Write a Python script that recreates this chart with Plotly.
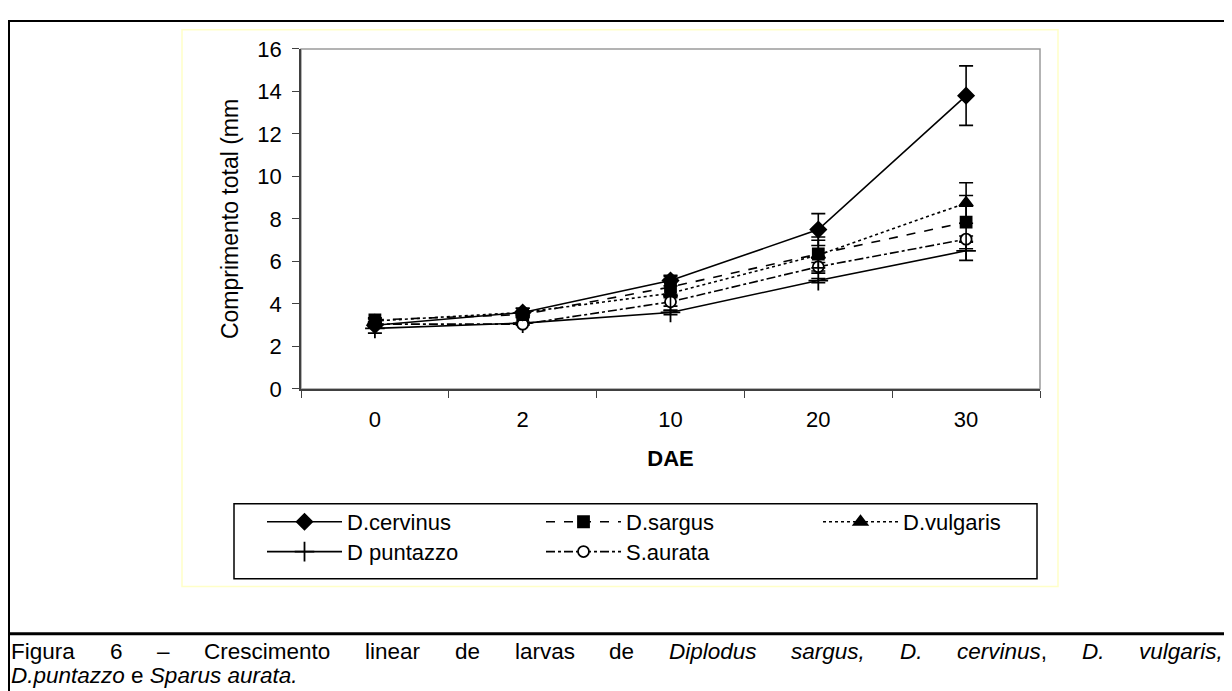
import plotly.graph_objects as go

# ---------------- data ----------------
DAE = ["0", "2", "10", "20", "30"]
y_ticks = [0, 2, 4, 6, 8, 10, 12, 14, 16]

cervinus = [3.0, 3.6, 5.1, 7.5, 13.8]
cervinus_err = [0.1, 0.2, 0.25, 0.75, 1.4]
sargus = [3.25, 3.5, 4.8, 6.35, 7.85]
sargus_err = [0.1, 0.15, 0.35, 0.65, 1.25]
vulgaris = [3.2, 3.6, 4.5, 6.3, 8.75]
vulgaris_err = [0.1, 0.2, 0.8, 0.85, 0.95]
puntazzo = [2.85, 3.1, 3.6, 5.1, 6.5]
puntazzo_err = [0.22, 0.05, 0.1, 0.1, 0.45]
aurata = [3.05, 3.05, 4.1, 5.75, 7.05]
aurata_err = [0.1, 0.05, 0.2, 0.2, 0.15]

names = ["D.cervinus", "D.sargus", "D.vulgaris", "D puntazzo", "S.aurata"]

OFF = 8  # default page (body) margin of the html page
W, H = 1232 - OFF, 691 - OFF


def px(x):
    return (x - OFF) / W


def py(y):
    return 1 - (y - OFF) / H


X0, X1, Y0, Y1 = 301, 1040, 38, 391

fig = go.Figure()

series = [
    (names[3], puntazzo, puntazzo_err, "solid", "cross-thin-open", 14, "legend4"),
    (names[4], aurata, aurata_err, "dashdot", "circle", 11, "legend5"),
    (names[1], sargus, sargus_err, "dash", "square", 11, "legend2"),
    (names[2], vulgaris, vulgaris_err, "dot", "triangle-up", 12, "legend3"),
    (names[0], cervinus, cervinus_err, "solid", "diamond", 12, "legend"),
]

for name, vals, err, dash, sym, size, leg in series:
    fig.add_trace(go.Scatter(
        x=DAE, y=vals, name=name, mode="lines+markers",
        line=dict(color="black", width=1.6, dash=dash),
        marker=dict(symbol=sym, size=size,
                    color="white" if sym == "circle" else "black",
                    line=dict(color="black", width=1.8)),
        error_y=dict(type="data", array=err, visible=True, color="black",
                     thickness=1.6, width=7),
        legend=leg, showlegend=True,
    ))

axis_font = dict(family="Liberation Sans, Arial, sans-serif", size=22, color="black")
title_font = dict(family="Liberation Sans, Arial, sans-serif", size=23, color="black")
leg_font = dict(family="Liberation Sans, Arial, sans-serif", size=22, color="black")

legend_common = dict(orientation="h", xanchor="left", yanchor="middle",
                     bgcolor="rgba(0,0,0,0)", borderwidth=0, font=leg_font,
                     itemwidth=75, itemclick=False, itemdoubleclick=False)

row1, row2 = 529, 560
fig.update_layout(
    width=W, height=H,
    margin=dict(l=0, r=0, t=0, b=0),
    paper_bgcolor="white", plot_bgcolor="white",
    showlegend=True,
    legend=dict(x=px(262), y=py(row1), **legend_common),
    legend2=dict(x=px(541), y=py(row1), **legend_common),
    legend3=dict(x=px(818), y=py(row1), **legend_common),
    legend4=dict(x=px(262), y=py(row2), **legend_common),
    legend5=dict(x=px(541), y=py(row2), **legend_common),
    xaxis=dict(
        type="category", domain=[px(X0), px(X1)], range=[-0.5, 4.5],
        tickson="boundaries", ticks="outside", ticklen=7, tickwidth=1.3,
        tickcolor="#404040", showline=True, linecolor="#404040", linewidth=1.5,
        showgrid=False, tickfont=axis_font, ticklabelstandoff=10,
        title=dict(text="<b>DAE</b>", font=axis_font, standoff=19),
    ),
    yaxis=dict(
        domain=[py(Y1), py(Y0)], range=[0, 16], tickvals=y_ticks,
        ticks="outside", ticklen=7, tickwidth=1.3, tickcolor="#404040",
        showline=True, linecolor="#404040", linewidth=1.5,
        showgrid=False, zeroline=False, tickfont=axis_font,
        ticklabelstandoff=6,
        title=dict(text="Comprimento total (mm", font=title_font, standoff=12),
    ),
)

shapes = [
    # outer page frame
    dict(type="rect", xref="paper", yref="paper", x0=px(9), x1=px(1250),
         y0=py(710), y1=py(9), line=dict(color="black", width=2)),
    # thick separator above caption
    dict(type="line", xref="paper", yref="paper", x0=px(9), x1=px(1250),
         y0=py(645), y1=py(645), line=dict(color="black", width=3)),
    # pale yellow chart-area border
    dict(type="rect", xref="paper", yref="paper", x0=px(182), x1=px(1058),
         y0=py(596), y1=py(18), line=dict(color="#FFFFC8", width=1.5)),
    # grey plot-area border (top/right)
    dict(type="rect", xref="paper", yref="paper", x0=px(X0), x1=px(X1),
         y0=py(Y1), y1=py(Y0), line=dict(color="#9a9a9a", width=1.5), layer="below"),
    # legend box
    dict(type="rect", xref="paper", yref="paper", x0=px(234), x1=px(1037),
         y0=py(588), y1=py(510), line=dict(color="black", width=1.5)),
]
fig.update_layout(shapes=shapes)

# ---------------- caption (justified first line) ----------------
AW = {"F": 611, "i": 222, "g": 556, "u": 556, "r": 333, "a": 556, "6": 556,
      "–": 556, "C": 722, "e": 556, "s": 500, "c": 500, "m": 833, "n": 556,
      "t": 278, "o": 556, "l": 222, "d": 556, "v": 500, "D": 722, "p": 556,
      ",": 278, ".": 278, "S": 667, "z": 500, " ": 278}
cap_size = 22.5


def tw(s):
    return sum(AW.get(ch, 556) for ch in s) / 1000 * cap_size


line1 = [("Figura", "Figura"), ("6", "6"), ("–", "–"), ("Crescimento", "Crescimento"),
         ("linear", "linear"), ("de", "de"), ("larvas", "larvas"), ("de", "de"),
         ("Diplodus", "<i>Diplodus</i>"), ("sargus,", "<i>sargus,</i>"),
         ("D.", "<i>D.</i>"), ("cervinus,", "<i>cervinus</i>,"),
         ("D.", "<i>D.</i>"), ("vulgaris,", "<i>vulgaris,</i>")]
left, right = 10, 1222
total = sum(tw(p) for p, _ in line1)
gap = (right - left - total) / (len(line1) - 1)
cap_font = dict(family="Liberation Sans, Arial, sans-serif", size=cap_size, color="black")
xcur = left
for plain, txt in line1:
    fig.add_annotation(x=px(xcur), y=py(663), xref="paper", yref="paper",
                       text=txt, showarrow=False, xanchor="left", yanchor="middle",
                       font=cap_font, borderpad=0)
    xcur += tw(plain) + gap
fig.add_annotation(x=px(left), y=py(688.5), xref="paper", yref="paper",
                   text="<i>D.puntazzo</i> e <i>Sparus aurata.</i>", showarrow=False,
                   xanchor="left", yanchor="middle", font=cap_font, borderpad=0)

fig.write_html("out.html")
